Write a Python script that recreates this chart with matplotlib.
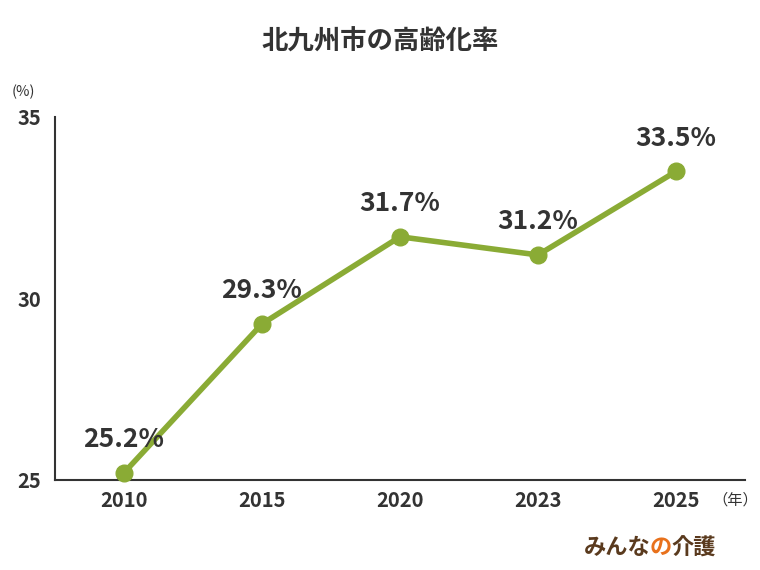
import matplotlib
matplotlib.use("Agg")
import matplotlib.pyplot as plt

plt.rcParams['font.family'] = ['Noto Sans CJK JP', 'DejaVu Sans']

years = ["2010", "2015", "2020", "2023", "2025"]
rates = [25.2, 29.3, 31.7, 31.2, 33.5]
yticks = [25, 30, 35]

fig = plt.figure(figsize=(7.6, 5.7), dpi=100)
ax = fig.add_axes([55/760, 1-480/570, 690/760, 363/570])
x = list(range(len(years)))
color = "#8aab35"
ax.plot(x, rates, color=color, lw=4, marker='o', ms=12, clip_on=False, zorder=3)
for xi, v in zip(x, rates):
    ax.annotate(f"{v}%", (xi, v), xytext=(0, 14), textcoords="offset points",
                ha='center', va='bottom', fontsize=19, fontweight='bold', color="#333333")
ax.set_xlim(-0.5, 4.5)
ax.set_ylim(25, 35)
ax.set_yticks(yticks)
ax.set_xticks(x)
ax.set_xticklabels(years)
ax.tick_params(axis='both', length=0, labelsize=14.5, colors="#333333", pad=7)
for lab in ax.get_xticklabels() + ax.get_yticklabels():
    lab.set_fontweight('bold')
ax.tick_params(axis='y', pad=10)
for s in ['top', 'right']:
    ax.spines[s].set_visible(False)
for s in ['left', 'bottom']:
    ax.spines[s].set_color("#333333")
    ax.spines[s].set_linewidth(1.5)

fig.text(0.5, 1-42/570, "北九州市の高齢化率", ha='center', va='center', fontsize=19, fontweight='bold', color="#333333")
fig.text(12/760, 1-92/570, "(%)", ha='left', va='center', fontsize=10.5, color="#333333")
fig.text(712/760, 1-500/570, "（年）", ha='left', va='center', fontsize=11, color="#333333")
fig.text(584/760, 1-548/570, "みんな", ha='left', va='center', fontsize=16, fontweight='bold', color="#5a3a1e")
fig.text(650/760, 1-548/570, "の", ha='left', va='center', fontsize=16, fontweight='bold', color="#e8711c")
fig.text(671/760, 1-548/570, "介護", ha='left', va='center', fontsize=16, fontweight='bold', color="#5a3a1e")

fig.savefig("out.png", dpi=100)
